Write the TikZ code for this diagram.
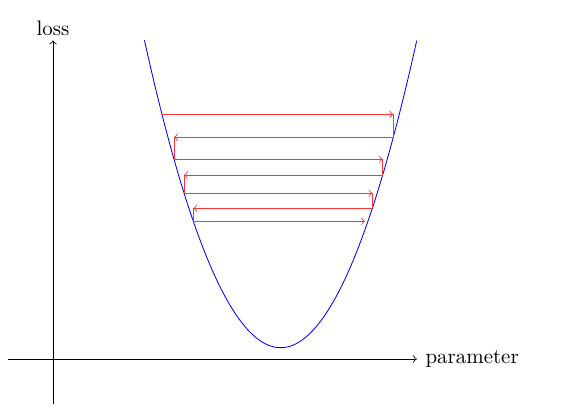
\documentclass[tikz,border=0pt]{standalone}
\usepackage{tikz}
\newcommand\lossCurv{1.5}
\newcommand\lossMin{0.125}
\newcommand\lossCent{2.515}
\newcommand\axisLen{4.02}
\newcommand\axisTop{3.52}
\newcommand\steps{7}

\begin{document}
\begin{tikzpicture}[x=1.52cm, y=1.52cm,
    declare function={loss(\t)=\lossCurv*(\t-\lossCent)^2+\lossMin;},
    stepline/.style={color=red!80, thin},
    axisline/.style={thin, ->}]
    \useasboundingbox (-0.586,-0.608) rectangle (5.735,3.967);

    %% axes
    \coordinate (xs) at (-0.5,0);
    \coordinate (xe) at (\axisLen,0);
    \coordinate (ys) at (0,-0.5);
    \coordinate (ye) at (0,\axisTop);
    \node[right, inner sep=4pt] (xlab) at (xe) {parameter};
    \node[above, inner sep=2pt] (ylab) at (ye) {loss};
    \draw[axisline] (xs) -- (xe);
    \draw[axisline] (ys) -- (ye);

    %% loss curve
    \draw[blue, domain=1.01:4.02, samples=100] plot (\x,{loss(\x)});

    %% descent steps
    \foreach \xs [count=\i] in {1.204,3.760,1.337,3.643,1.448,3.528,1.550,3.448}{
      \coordinate (p\i) at (\xs,{loss(\xs)});
    }
    \foreach \i in {1,...,\steps}{
      \pgfmathtruncatemacro\j{\i+1}
      \coordinate (h\i) at (p\j |- p\i);
      \draw[stepline, ->] (p\i) -- (h\i);
      \ifnum\i<\steps
        \draw[stepline] (h\i) -- (p\j);
      \fi
    }

  \end{tikzpicture}
\end{document}
